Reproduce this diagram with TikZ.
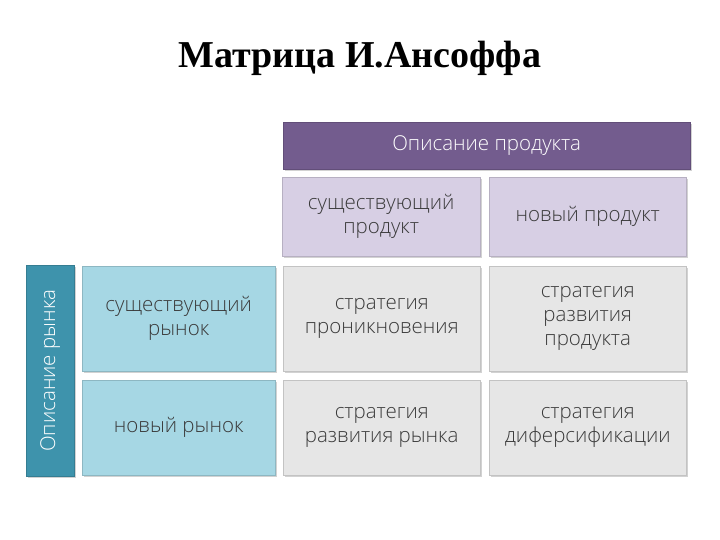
\documentclass[tikz,border=0pt]{standalone}
\usepackage{fontspec}
\setmainfont{Liberation Serif}
\newfontfamily\boxfont{Open Sans Light}
\usetikzlibrary{shadows}
\definecolor{purp}{HTML}{735C8E}
\definecolor{lav}{HTML}{D7CFE4}
\definecolor{teal}{HTML}{3E93AC}
\definecolor{lblue}{HTML}{A6D7E4}
\definecolor{gbox}{HTML}{E6E6E6}
\definecolor{txt}{HTML}{3A3A3A}
\tikzset{
  cell/.style={draw=#1!85!black, line width=0.4pt, fill=#1, anchor=north west, inner sep=0pt,
    text=txt, font=\boxfont\fontsize{20.5}{24}\selectfont, align=center,
    drop shadow={shadow xshift=1.5pt, shadow yshift=-1.5pt, opacity=0.35}},
}
\begin{document}
\begin{tikzpicture}[x=1pt,y=-1pt]
\useasboundingbox (0,0) rectangle (720,540);
\fill[white] (0,0) rectangle (720,540);
\node[font=\bfseries\fontsize{38}{42}\selectfont] (title) at (360,58) {Матрица И.Ансоффа};
\node[cell=purp, text=white, minimum width=407pt, minimum height=47pt] (top) at (283,122) {Описание продукта};
\node[cell=lav, minimum width=198pt, minimum height=79pt] (p1) at (282,177) {существующий\\продукт};
\node[cell=lav, minimum width=197pt, minimum height=79pt] (p2) at (489,177) {новый продукт};
\node[cell=teal, minimum width=48pt, minimum height=211pt] (left) at (26,265) {};
\node[rotate=90, text=white, font=\boxfont\fontsize{20.5}{24}\selectfont] (lefttxt) at (left.center) {Описание рынка};
\node[cell=lblue, minimum width=193pt, minimum height=105pt] (m1) at (82,266) {существующий\\рынок};
\node[cell=lblue, minimum width=193pt, minimum height=95pt] (m2) at (82,380) {новый рынок};
\node[cell=gbox, minimum width=197pt, minimum height=105pt] (c11) at (283,266) {стратегия\\проникновения};
\node[cell=gbox, minimum width=197pt, minimum height=105pt] (c12) at (489,266) {стратегия\\развития\\продукта};
\node[cell=gbox, minimum width=197pt, minimum height=95pt] (c21) at (283,380) {стратегия\\развития рынка};
\node[cell=gbox, minimum width=197pt, minimum height=95pt] (c22) at (489,380) {стратегия\\диферсификации};
\end{tikzpicture}
\end{document}
